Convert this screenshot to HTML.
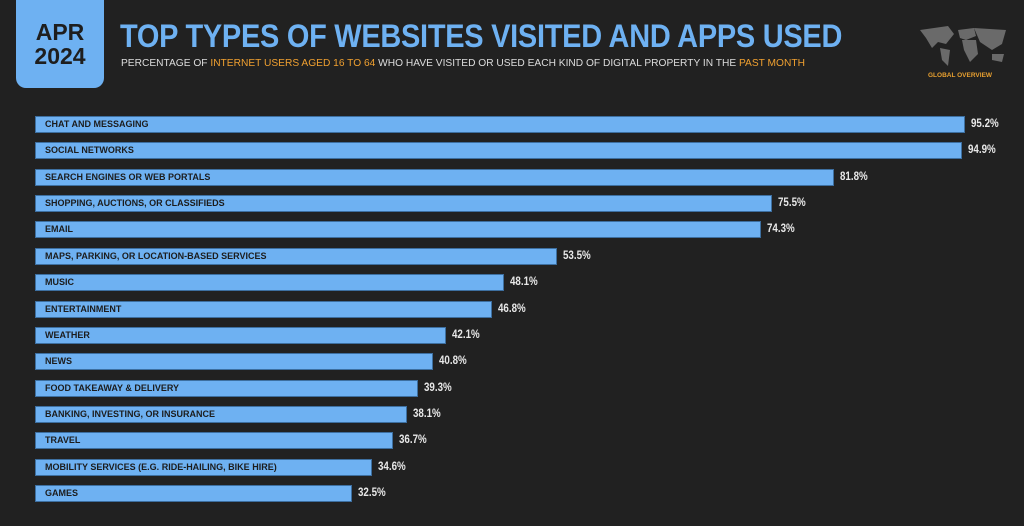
<!DOCTYPE html>
<html><head><style>
body{margin:0;width:1024px;height:526px;background:#212121;overflow:hidden;position:relative;font-family:"Liberation Sans",sans-serif}
.date{position:absolute;left:16px;top:-10px;width:88px;height:98px;background:#6eb1f2;border-radius:10px;color:#1e1e1e;font-weight:bold;font-size:23px;line-height:24px;text-align:center;padding-top:30px;box-sizing:border-box}
.title{position:absolute;left:120px;top:18px;color:#6eb1f2;font-weight:bold;font-size:32px;letter-spacing:-0.3px;white-space:nowrap;transform:scaleX(0.905);transform-origin:left}
.sub{position:absolute;left:121px;top:58px;color:#ddd;font-size:10px;white-space:nowrap;transform:scaleX(1.02);transform-origin:left}
.sub b{color:#f0a030;font-weight:normal}
.go{position:absolute;left:928px;top:72px;color:#e8a030;font-size:6.5px;font-weight:bold}
.bar{position:absolute;left:35px;height:17px;background:#6eb1f2;box-shadow:0 0 0 1px #3d6fa0 inset}
.lab{position:absolute;left:45px;font-size:9px;font-weight:bold;color:#1c1c1c;line-height:17px;white-space:nowrap}
.val{position:absolute;color:#e8e8e8;font-size:11.5px;font-weight:bold;line-height:17px;transform:scaleX(0.85);transform-origin:left}
</style></head><body>
<div class="date">APR<br>2024</div>
<div class="title">TOP TYPES OF WEBSITES VISITED AND APPS USED</div>
<div class="sub">PERCENTAGE OF <b>INTERNET USERS AGED 16 TO 64</b> WHO HAVE VISITED OR USED EACH KIND OF DIGITAL PROPERTY IN THE <b>PAST MONTH</b></div>
<svg style="position:absolute;left:918px;top:24px" width="92" height="44"><g fill="#6a6a6a"><path d="M2 6 L30 2 L36 10 L28 20 L20 18 L14 24 L8 14Z"/><path d="M22 24 L32 26 L30 42 L24 36Z"/><path d="M40 6 L56 4 L58 12 L48 16 L42 14Z"/><path d="M44 16 L58 16 L60 30 L52 38 L46 26Z"/><path d="M56 4 L88 6 L84 20 L74 26 L62 18Z"/><path d="M74 30 L86 30 L84 38 L74 36Z"/></g></svg>
<div class="go">GLOBAL OVERVIEW</div>
<div id="c"></div>
<script>
var d=[["CHAT AND MESSAGING",95.2],["SOCIAL NETWORKS",94.9],["SEARCH ENGINES OR WEB PORTALS",81.8],["SHOPPING, AUCTIONS, OR CLASSIFIEDS",75.5],["EMAIL",74.3],["MAPS, PARKING, OR LOCATION-BASED SERVICES",53.5],["MUSIC",48.1],["ENTERTAINMENT",46.8],["WEATHER",42.1],["NEWS",40.8],["FOOD TAKEAWAY & DELIVERY",39.3],["BANKING, INVESTING, OR INSURANCE",38.1],["TRAVEL",36.7],["MOBILITY SERVICES (E.G. RIDE-HAILING, BIKE HIRE)",34.6],["GAMES",32.5]];
var h="";d.forEach(function(r,i){var y=116+i*26.36,w=r[1]*9.78-1;
h+='<div class="bar" style="top:'+y+'px;width:'+w+'px"></div><div class="lab" style="top:'+y+'px">'+r[0].replace("&","&amp;")+'</div><div class="val" style="top:'+y+'px;left:'+(35+w+6)+'px">'+r[1].toFixed(1)+'%</div>';});
document.getElementById("c").innerHTML=h;
</script>
</body></html>
